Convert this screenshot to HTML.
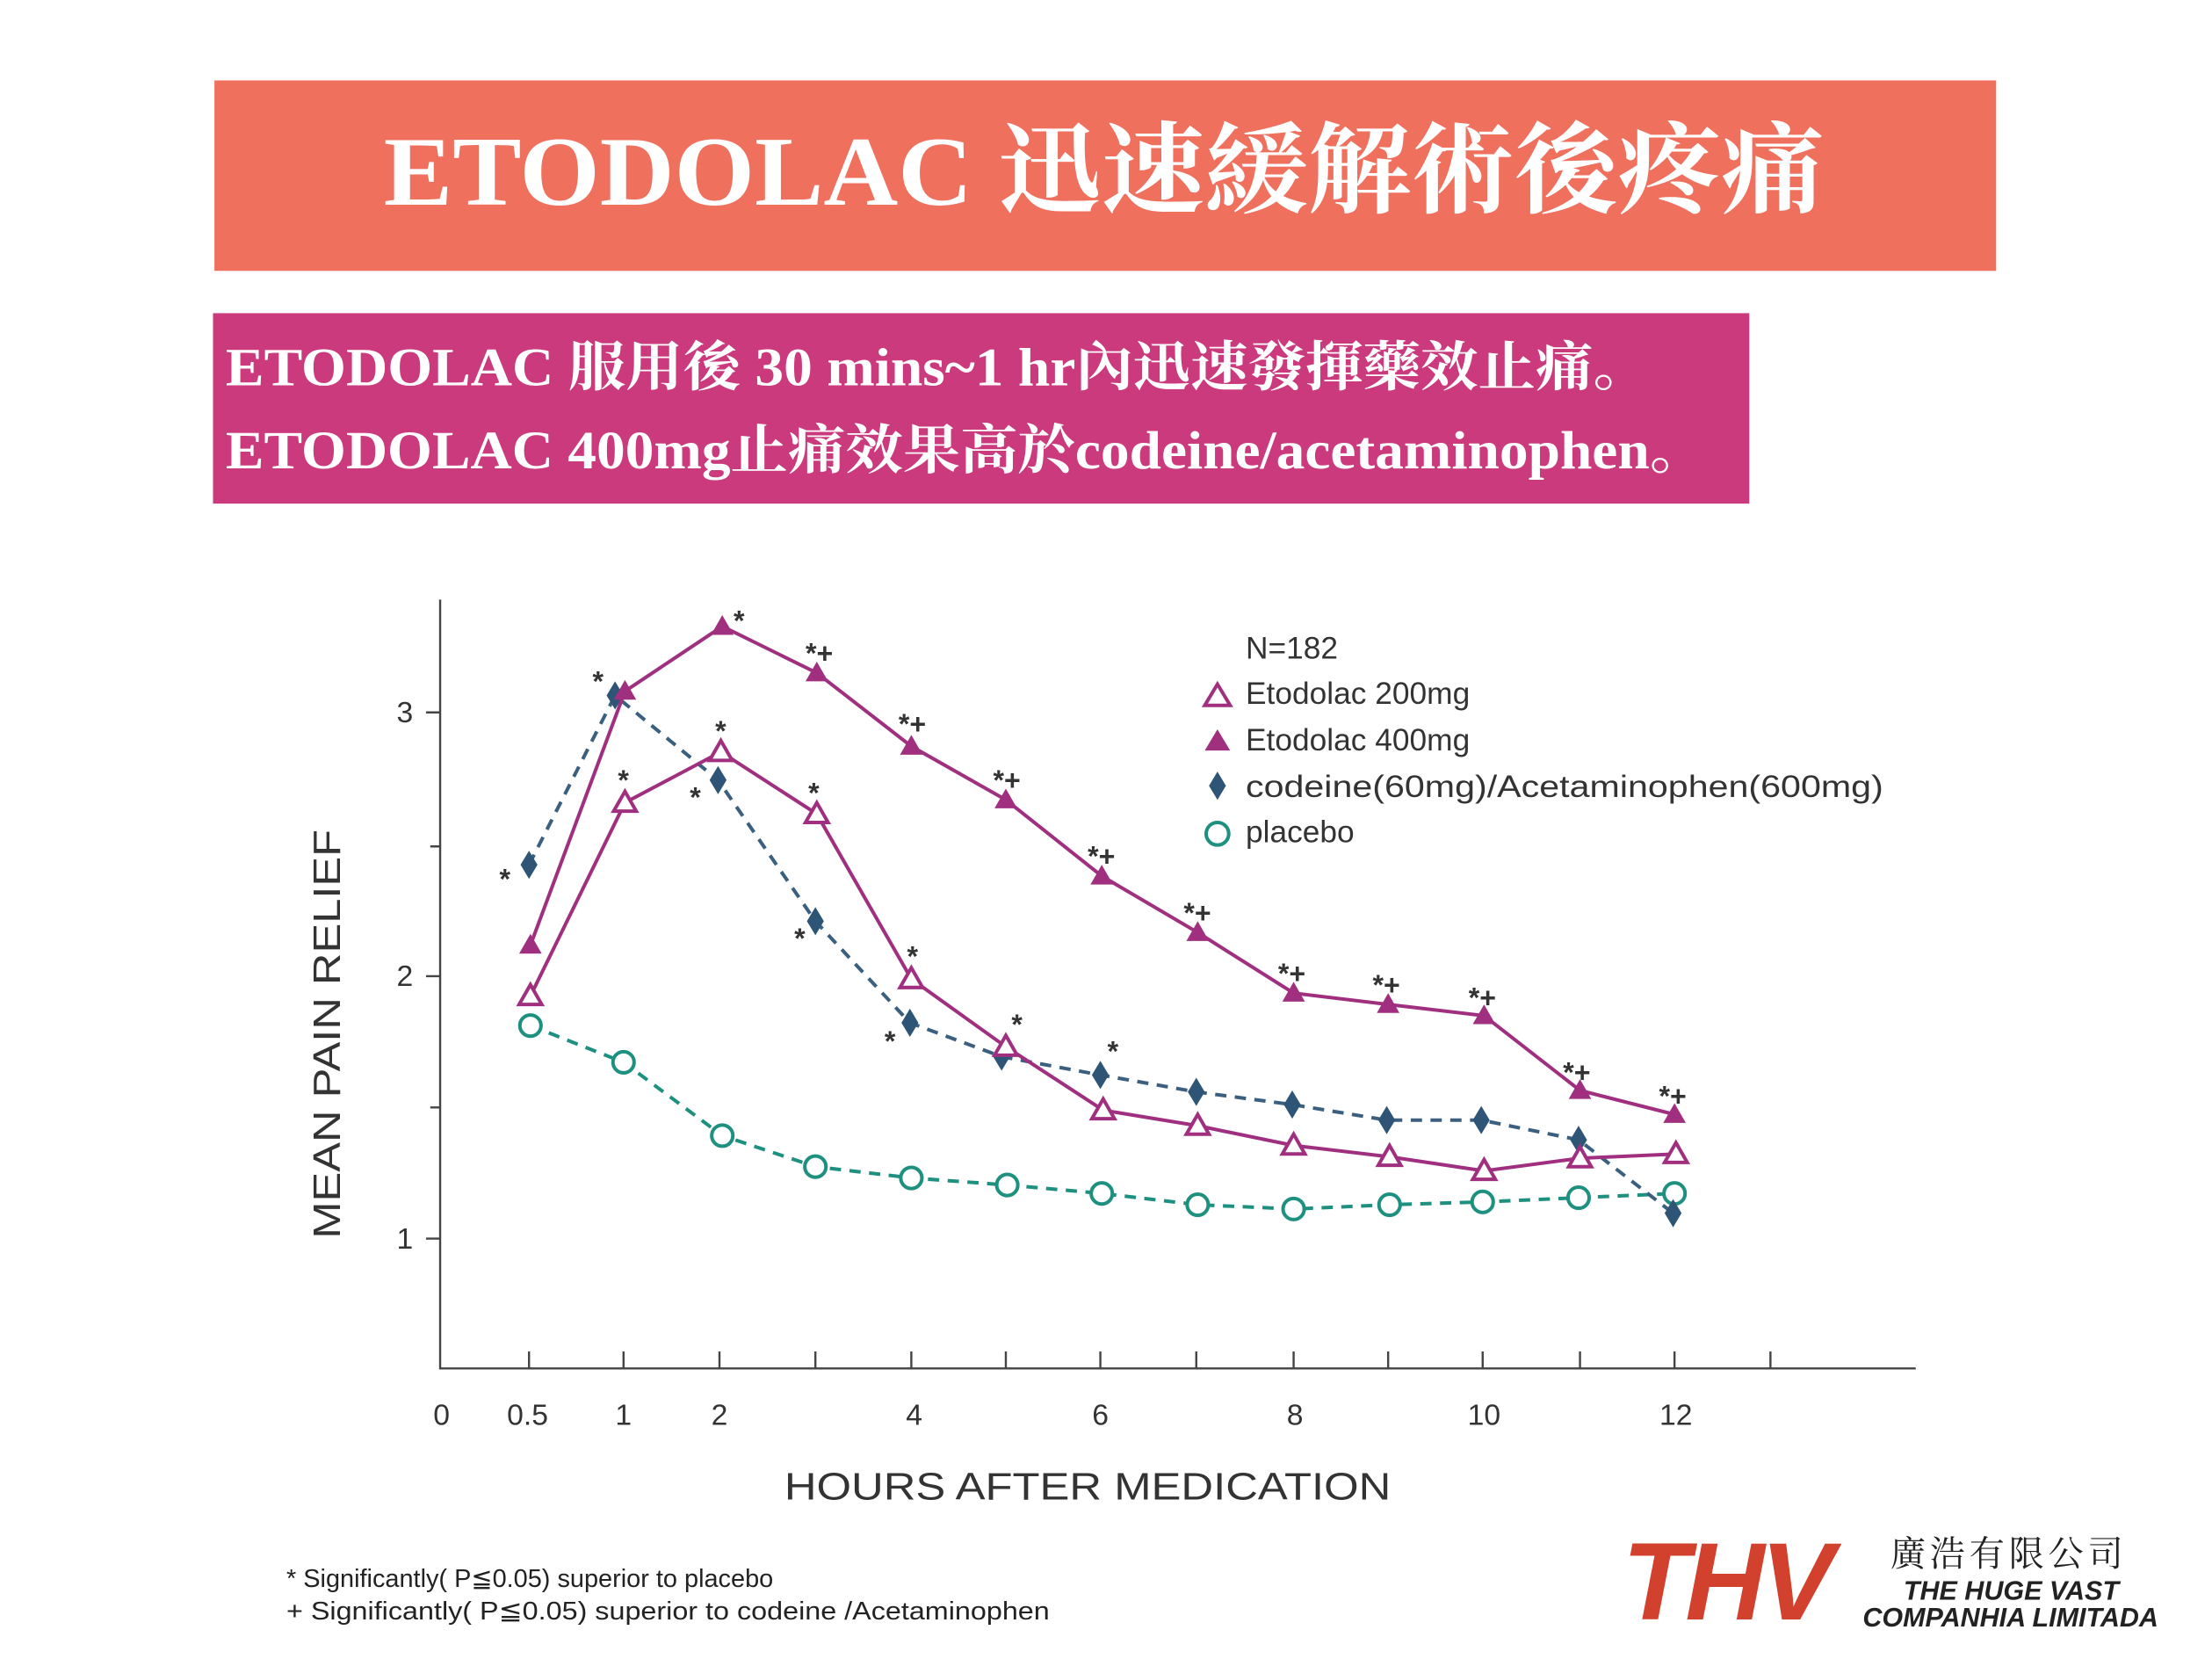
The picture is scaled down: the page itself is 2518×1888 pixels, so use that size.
<!DOCTYPE html>
<html><head><meta charset="utf-8"><style>html,body{margin:0;padding:0;background:#fff}svg{display:block}</style></head><body>
<svg width="2518" height="1888" viewBox="0 0 1568 1176" preserveAspectRatio="none" xmlns="http://www.w3.org/2000/svg" font-family="Liberation Sans, DejaVu Sans, sans-serif">
<rect width="1568" height="1176" fill="#fff"/>
<rect x="152" y="57" width="1263" height="135" fill="#f0705e"/>
<text x="272" y="145" textLength="1021" lengthAdjust="spacingAndGlyphs" fill="#fff" font-size="70" font-weight="bold" font-family="Liberation Serif, Noto Serif CJK SC, serif">ETODOLAC 迅速緩解術後疼痛</text>
<rect x="151" y="222" width="1089" height="135" fill="#cc3a7e"/>
<g fill="#fff" font-size="38" font-weight="bold" font-family="Liberation Serif, Noto Serif CJK SC, serif">
<text x="160" y="273" textLength="1010" lengthAdjust="spacingAndGlyphs">ETODOLAC 服用後 30 mins~1 hr內迅速發揮藥效止痛。</text>
<text x="160" y="332" textLength="1050" lengthAdjust="spacingAndGlyphs">ETODOLAC 400mg止痛效果高於codeine/acetaminophen。</text>
</g>
<g stroke="#444" stroke-width="1.5" fill="none">
<path d="M312 425V970H1358"/>
<path d="M302 505H312M305 600H312M302 692H312M305 785H312M302 878H312"/>
<path d="M375 970v-12M442 970v-12M510 970v-12M578 970v-12M646 970v-12M713 970v-12M780 970v-12M848 970v-12M917 970v-12M984 970v-12M1051 970v-12M1120 970v-12M1187 970v-12M1255 970v-12"/>
</g>
<g font-size="21" fill="#333" text-anchor="middle">
<text x="287" y="512">3</text><text x="287" y="699">2</text><text x="287" y="885">1</text>
<text x="313" y="1010">0</text><text x="374" y="1010">0.5</text><text x="442" y="1010">1</text><text x="510" y="1010">2</text><text x="648" y="1010">4</text><text x="780" y="1010">6</text><text x="918" y="1010">8</text><text x="1052" y="1010">10</text><text x="1188" y="1010">12</text>
</g>
<text x="771" y="1063" text-anchor="middle" font-size="27" fill="#333" textLength="430" lengthAdjust="spacingAndGlyphs">HOURS AFTER MEDICATION</text>
<text transform="translate(241 733) rotate(-90)" text-anchor="middle" font-size="27" fill="#333" textLength="290" lengthAdjust="spacingAndGlyphs">MEAN PAIN RELIEF</text>
<polyline fill="none" stroke="#1e9080" stroke-width="2.5" stroke-dasharray="8,6" points="376,727 442,753 512,805 578,827 646,835 714,840 781,846 849,854 917,857 985,854 1051,852 1119,849 1187,846"/>
<g fill="#fff" stroke="#1e9080" stroke-width="2.5"><circle cx="376" cy="727" r="7.5"/><circle cx="442" cy="753" r="7.5"/><circle cx="512" cy="805" r="7.5"/><circle cx="578" cy="827" r="7.5"/><circle cx="646" cy="835" r="7.5"/><circle cx="714" cy="840" r="7.5"/><circle cx="781" cy="846" r="7.5"/><circle cx="849" cy="854" r="7.5"/><circle cx="917" cy="857" r="7.5"/><circle cx="985" cy="854" r="7.5"/><circle cx="1051" cy="852" r="7.5"/><circle cx="1119" cy="849" r="7.5"/><circle cx="1187" cy="846" r="7.5"/></g>
<polyline fill="none" stroke="#3a5f7f" stroke-width="2.5" stroke-dasharray="8,6" points="375,613 436,493 509,553 578,653 645,725 710,749 780,762 848,774 916,783 983,794 1050,794 1119,808 1186,860"/>
<g fill="#2e5575">
<path d="M375 603l6 10-6 10-6-10z"/><path d="M436 483l6 10-6 10-6-10z"/><path d="M509 543l6 10-6 10-6-10z"/><path d="M578 643l6 10-6 10-6-10z"/><path d="M645 715l6 10-6 10-6-10z"/><path d="M710 739l6 10-6 10-6-10z"/><path d="M780 752l6 10-6 10-6-10z"/><path d="M848 764l6 10-6 10-6-10z"/><path d="M916 773l6 10-6 10-6-10z"/><path d="M983 784l6 10-6 10-6-10z"/><path d="M1050 784l6 10-6 10-6-10z"/><path d="M1119 798l6 10-6 10-6-10z"/><path d="M1186 850l6 10-6 10-6-10z"/>
</g>
<polyline fill="none" stroke="#a0307f" stroke-width="2.5" points="376,706 443,569 511,533 579,577 646,694 713,742 782,787 849,798 917,812 985,820 1052,830 1120,821 1188,818"/>
<g fill="#fff" stroke="#a0307f" stroke-width="2.5">
<path d="M376 698l8 14h-16z"/><path d="M443 561l8 14h-16z"/><path d="M511 525l8 14h-16z"/><path d="M579 569l8 14h-16z"/><path d="M646 686l8 14h-16z"/><path d="M713 734l8 14h-16z"/><path d="M782 779l8 14h-16z"/><path d="M849 790l8 14h-16z"/><path d="M917 804l8 14h-16z"/><path d="M985 812l8 14h-16z"/><path d="M1052 822l8 14h-16z"/><path d="M1120 813l8 14h-16z"/><path d="M1188 810l8 14h-16z"/>
</g>
<polyline fill="none" stroke="#a0307f" stroke-width="2.5" points="376,670 443,490 512,444 579,477 646,529 713,567 781,621 849,661 917,704 984,712 1052,720 1120,773 1187,790"/>
<g fill="#a0307f">
<path d="M376 662l8 14h-16z"/><path d="M443 482l8 14h-16z"/><path d="M512 436l8 14h-16z"/><path d="M579 469l8 14h-16z"/><path d="M646 521l8 14h-16z"/><path d="M713 559l8 14h-16z"/><path d="M781 613l8 14h-16z"/><path d="M849 653l8 14h-16z"/><path d="M917 696l8 14h-16z"/><path d="M984 704l8 14h-16z"/><path d="M1052 712l8 14h-16z"/><path d="M1120 765l8 14h-16z"/><path d="M1187 782l8 14h-16z"/>
</g>
<g font-size="20" fill="#333" font-weight="bold">
<text x="520" y="447">*</text><text x="571" y="470">*+</text><text x="637" y="520">*+</text><text x="704" y="560">*+</text><text x="771" y="614">*+</text><text x="839" y="654">*+</text><text x="906" y="697">*+</text><text x="973" y="705">*+</text><text x="1041" y="714">*+</text><text x="1108" y="767">*+</text><text x="1176" y="784">*+</text>
<text x="420" y="490">*</text><text x="438" y="560">*</text><text x="507" y="525">*</text><text x="489" y="572">*</text><text x="573" y="569">*</text><text x="563" y="672">*</text><text x="643" y="685">*</text><text x="627" y="745">*</text><text x="717" y="733">*</text><text x="785" y="752">*</text><text x="354" y="630">*</text>
</g>
<g font-size="22" fill="#333">
<text x="883" y="467">N=182</text>
<path d="M863 485l9 15h-18z" fill="#fff" stroke="#a0307f" stroke-width="2.5"/><text x="883" y="499">Etodolac 200mg</text>
<path d="M863 517l9 15h-18z" fill="#a0307f"/><text x="883" y="532">Etodolac 400mg</text>
<path d="M863 547l6 10-6 10-6-10z" fill="#2e5575"/><text x="883" y="565" textLength="452" lengthAdjust="spacingAndGlyphs">codeine(60mg)/Acetaminophen(600mg)</text>
<circle cx="863" cy="591" r="8" fill="#fff" stroke="#1e9080" stroke-width="2.5"/><text x="883" y="597">placebo</text>
</g>
<g font-size="18" fill="#222">
<text x="203" y="1125">* Significantly( P≦0.05) superior to placebo</text>
<text x="203" y="1148" textLength="541" lengthAdjust="spacingAndGlyphs">+ Significantly( P≦0.05) superior to codeine /Acetaminophen</text>
</g>
<text x="1150" y="1148" font-size="78" font-weight="bold" font-style="italic" fill="#d2402e" letter-spacing="-3">THV</text>
<text x="1340" y="1110" font-size="25" fill="#222" font-family="Liberation Serif, Noto Serif CJK SC, serif" letter-spacing="3">廣浩有限公司</text>
<text x="1502" y="1134" text-anchor="end" font-size="19" font-weight="bold" font-style="italic" fill="#222">THE HUGE VAST</text>
<text x="1530" y="1153" text-anchor="end" font-size="19" font-weight="bold" font-style="italic" fill="#222">COMPANHIA LIMITADA</text>
</svg>
</body></html>
